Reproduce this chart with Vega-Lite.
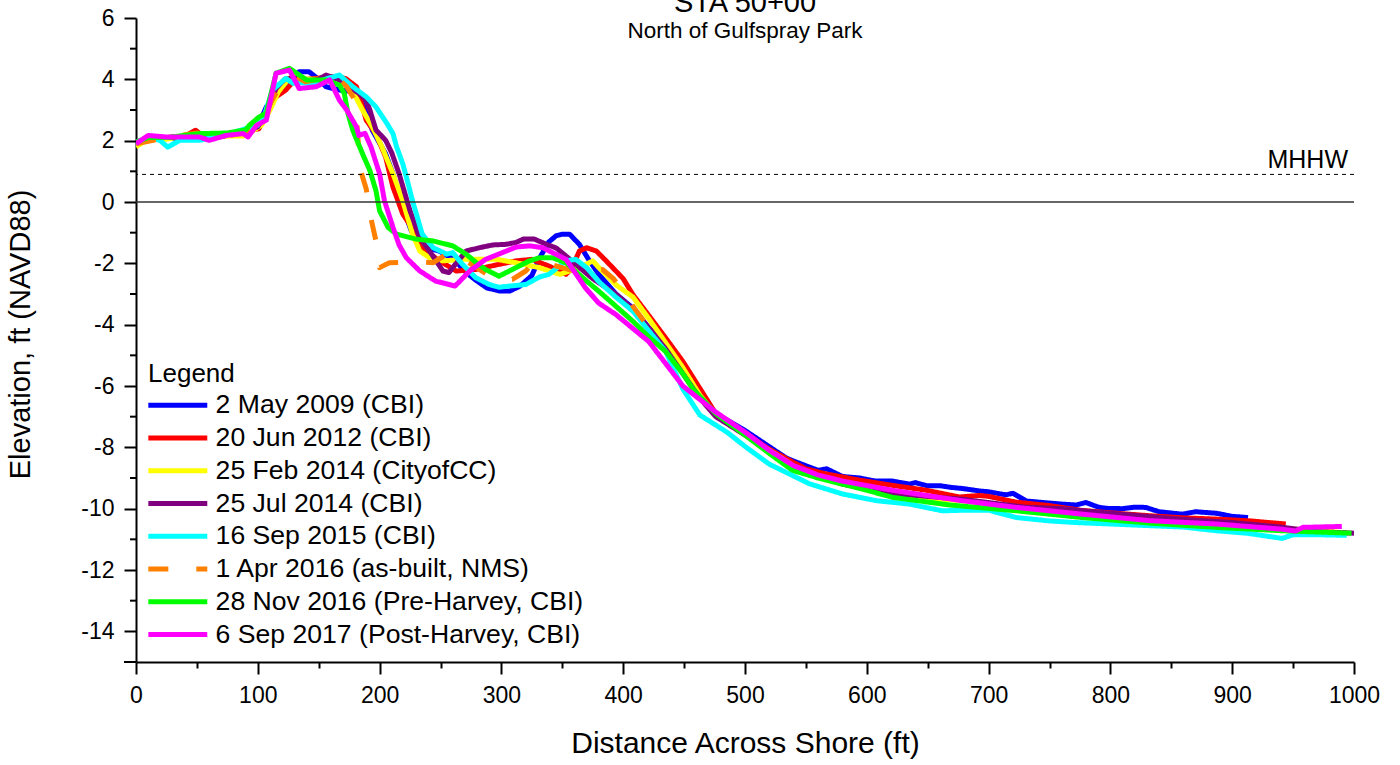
{
  "$schema": "https://vega.github.io/schema/vega-lite/v6.json",
  "autosize": {"type": "none"},
  "padding": {"left": 136, "top": 18, "right": 46, "bottom": 103},
  "width": 1218,
  "height": 644,
  "background": "white",
  "title": {
    "text": "STA 50+00",
    "subtitle": "North of Gulfspray Park",
    "fontSize": 29,
    "fontWeight": "normal",
    "subtitleFontSize": 22.5,
    "subtitlePadding": 2,
    "color": "black",
    "subtitleColor": "black",
    "anchor": "middle",
    "offset": -35
  },
  "config": {
    "font": "Liberation Sans",
    "locale": {"number": {"decimal": ".", "thousands": ",", "grouping": [3], "currency": ["$", ""], "minus": "-"}},
    "view": {"stroke": null},
    "axis": {
      "domainColor": "black",
      "domainWidth": 2,
      "tickColor": "black",
      "tickWidth": 2,
      "labelColor": "black",
      "titleColor": "black",
      "grid": false,
      "labelFontSize": 23,
      "titleFontWeight": "normal",
      "labelOverlap": false
    }
  },
  "datasets": {
    "minor": [{"x": 0, "y": -13}, {"x": 0, "y": -11}, {"x": 0, "y": -9}, {"x": 0, "y": -7}, {"x": 0, "y": -5}, {"x": 0, "y": -3}, {"x": 0, "y": -1}, {"x": 0, "y": 1}, {"x": 0, "y": 3}, {"x": 0, "y": 5}],
    "bottom": [{"x": 0, "y": -15}]
  },
  "data": {
    "values": [
      {"s": "2 May 2009 (CBI)", "x": 0, "y": 1.9},
      {"s": "2 May 2009 (CBI)", "x": 10, "y": 2.1},
      {"s": "2 May 2009 (CBI)", "x": 25, "y": 2.1},
      {"s": "2 May 2009 (CBI)", "x": 36, "y": 2.05},
      {"s": "2 May 2009 (CBI)", "x": 50, "y": 2.2},
      {"s": "2 May 2009 (CBI)", "x": 60, "y": 2.15},
      {"s": "2 May 2009 (CBI)", "x": 75, "y": 2.2},
      {"s": "2 May 2009 (CBI)", "x": 90, "y": 2.3},
      {"s": "2 May 2009 (CBI)", "x": 100, "y": 2.45},
      {"s": "2 May 2009 (CBI)", "x": 107, "y": 3.1},
      {"s": "2 May 2009 (CBI)", "x": 118, "y": 3.65},
      {"s": "2 May 2009 (CBI)", "x": 126, "y": 3.95},
      {"s": "2 May 2009 (CBI)", "x": 134, "y": 4.25},
      {"s": "2 May 2009 (CBI)", "x": 142, "y": 4.25},
      {"s": "2 May 2009 (CBI)", "x": 150, "y": 4.0},
      {"s": "2 May 2009 (CBI)", "x": 156, "y": 3.76},
      {"s": "2 May 2009 (CBI)", "x": 167, "y": 3.65},
      {"s": "2 May 2009 (CBI)", "x": 178, "y": 3.6},
      {"s": "2 May 2009 (CBI)", "x": 186, "y": 3.21},
      {"s": "2 May 2009 (CBI)", "x": 194, "y": 2.34},
      {"s": "2 May 2009 (CBI)", "x": 205, "y": 1.57},
      {"s": "2 May 2009 (CBI)", "x": 211, "y": 0.92},
      {"s": "2 May 2009 (CBI)", "x": 218, "y": -0.07},
      {"s": "2 May 2009 (CBI)", "x": 226, "y": -0.94},
      {"s": "2 May 2009 (CBI)", "x": 233, "y": -1.45},
      {"s": "2 May 2009 (CBI)", "x": 249, "y": -1.6},
      {"s": "2 May 2009 (CBI)", "x": 262, "y": -1.9},
      {"s": "2 May 2009 (CBI)", "x": 271, "y": -2.3},
      {"s": "2 May 2009 (CBI)", "x": 279, "y": -2.55},
      {"s": "2 May 2009 (CBI)", "x": 288, "y": -2.8},
      {"s": "2 May 2009 (CBI)", "x": 298, "y": -2.9},
      {"s": "2 May 2009 (CBI)", "x": 307, "y": -2.9},
      {"s": "2 May 2009 (CBI)", "x": 315, "y": -2.75},
      {"s": "2 May 2009 (CBI)", "x": 325, "y": -2.4},
      {"s": "2 May 2009 (CBI)", "x": 331, "y": -1.85},
      {"s": "2 May 2009 (CBI)", "x": 339, "y": -1.3},
      {"s": "2 May 2009 (CBI)", "x": 345, "y": -1.1},
      {"s": "2 May 2009 (CBI)", "x": 350, "y": -1.05},
      {"s": "2 May 2009 (CBI)", "x": 356, "y": -1.05},
      {"s": "2 May 2009 (CBI)", "x": 364, "y": -1.38},
      {"s": "2 May 2009 (CBI)", "x": 372, "y": -1.9},
      {"s": "2 May 2009 (CBI)", "x": 380, "y": -2.36},
      {"s": "2 May 2009 (CBI)", "x": 394, "y": -3.0},
      {"s": "2 May 2009 (CBI)", "x": 408, "y": -3.46},
      {"s": "2 May 2009 (CBI)", "x": 421, "y": -4.1},
      {"s": "2 May 2009 (CBI)", "x": 435, "y": -4.66},
      {"s": "2 May 2009 (CBI)", "x": 449, "y": -5.4},
      {"s": "2 May 2009 (CBI)", "x": 457, "y": -6.0},
      {"s": "2 May 2009 (CBI)", "x": 476, "y": -6.9},
      {"s": "2 May 2009 (CBI)", "x": 500, "y": -7.45},
      {"s": "2 May 2009 (CBI)", "x": 517, "y": -7.9},
      {"s": "2 May 2009 (CBI)", "x": 534, "y": -8.35},
      {"s": "2 May 2009 (CBI)", "x": 540, "y": -8.45},
      {"s": "2 May 2009 (CBI)", "x": 550, "y": -8.6},
      {"s": "2 May 2009 (CBI)", "x": 560, "y": -8.75},
      {"s": "2 May 2009 (CBI)", "x": 567, "y": -8.7},
      {"s": "2 May 2009 (CBI)", "x": 580, "y": -8.95},
      {"s": "2 May 2009 (CBI)", "x": 594, "y": -9.0},
      {"s": "2 May 2009 (CBI)", "x": 607, "y": -9.1},
      {"s": "2 May 2009 (CBI)", "x": 621, "y": -9.1},
      {"s": "2 May 2009 (CBI)", "x": 635, "y": -9.2},
      {"s": "2 May 2009 (CBI)", "x": 640, "y": -9.15},
      {"s": "2 May 2009 (CBI)", "x": 649, "y": -9.25},
      {"s": "2 May 2009 (CBI)", "x": 660, "y": -9.25},
      {"s": "2 May 2009 (CBI)", "x": 668, "y": -9.3},
      {"s": "2 May 2009 (CBI)", "x": 680, "y": -9.35},
      {"s": "2 May 2009 (CBI)", "x": 692, "y": -9.42},
      {"s": "2 May 2009 (CBI)", "x": 700, "y": -9.45},
      {"s": "2 May 2009 (CBI)", "x": 714, "y": -9.55},
      {"s": "2 May 2009 (CBI)", "x": 720, "y": -9.5},
      {"s": "2 May 2009 (CBI)", "x": 731, "y": -9.75},
      {"s": "2 May 2009 (CBI)", "x": 745, "y": -9.8},
      {"s": "2 May 2009 (CBI)", "x": 760, "y": -9.85},
      {"s": "2 May 2009 (CBI)", "x": 772, "y": -9.88},
      {"s": "2 May 2009 (CBI)", "x": 780, "y": -9.8},
      {"s": "2 May 2009 (CBI)", "x": 790, "y": -9.95},
      {"s": "2 May 2009 (CBI)", "x": 797, "y": -9.99},
      {"s": "2 May 2009 (CBI)", "x": 810, "y": -10.0},
      {"s": "2 May 2009 (CBI)", "x": 820, "y": -9.95},
      {"s": "2 May 2009 (CBI)", "x": 829, "y": -9.96},
      {"s": "2 May 2009 (CBI)", "x": 840, "y": -10.1},
      {"s": "2 May 2009 (CBI)", "x": 859, "y": -10.18},
      {"s": "2 May 2009 (CBI)", "x": 870, "y": -10.1},
      {"s": "2 May 2009 (CBI)", "x": 887, "y": -10.15},
      {"s": "2 May 2009 (CBI)", "x": 900, "y": -10.25},
      {"s": "2 May 2009 (CBI)", "x": 913, "y": -10.29},

      {"s": "20 Jun 2012 (CBI)", "x": 0, "y": 1.85},
      {"s": "20 Jun 2012 (CBI)", "x": 10, "y": 2.05},
      {"s": "20 Jun 2012 (CBI)", "x": 25, "y": 2.1},
      {"s": "20 Jun 2012 (CBI)", "x": 40, "y": 2.15},
      {"s": "20 Jun 2012 (CBI)", "x": 49, "y": 2.34},
      {"s": "20 Jun 2012 (CBI)", "x": 55, "y": 2.15},
      {"s": "20 Jun 2012 (CBI)", "x": 65, "y": 2.1},
      {"s": "20 Jun 2012 (CBI)", "x": 80, "y": 2.2},
      {"s": "20 Jun 2012 (CBI)", "x": 90, "y": 2.3},
      {"s": "20 Jun 2012 (CBI)", "x": 101, "y": 2.39},
      {"s": "20 Jun 2012 (CBI)", "x": 107, "y": 3.0},
      {"s": "20 Jun 2012 (CBI)", "x": 115, "y": 3.43},
      {"s": "20 Jun 2012 (CBI)", "x": 123, "y": 3.65},
      {"s": "20 Jun 2012 (CBI)", "x": 129, "y": 3.92},
      {"s": "20 Jun 2012 (CBI)", "x": 134, "y": 3.98},
      {"s": "20 Jun 2012 (CBI)", "x": 148, "y": 4.03},
      {"s": "20 Jun 2012 (CBI)", "x": 161, "y": 4.09},
      {"s": "20 Jun 2012 (CBI)", "x": 172, "y": 4.03},
      {"s": "20 Jun 2012 (CBI)", "x": 181, "y": 3.76},
      {"s": "20 Jun 2012 (CBI)", "x": 186, "y": 3.1},
      {"s": "20 Jun 2012 (CBI)", "x": 189, "y": 2.67},
      {"s": "20 Jun 2012 (CBI)", "x": 197, "y": 2.23},
      {"s": "20 Jun 2012 (CBI)", "x": 205, "y": 1.46},
      {"s": "20 Jun 2012 (CBI)", "x": 211, "y": 0.48},
      {"s": "20 Jun 2012 (CBI)", "x": 219, "y": -0.39},
      {"s": "20 Jun 2012 (CBI)", "x": 225, "y": -0.75},
      {"s": "20 Jun 2012 (CBI)", "x": 230, "y": -1.1},
      {"s": "20 Jun 2012 (CBI)", "x": 235, "y": -1.49},
      {"s": "20 Jun 2012 (CBI)", "x": 249, "y": -1.92},
      {"s": "20 Jun 2012 (CBI)", "x": 263, "y": -2.25},
      {"s": "20 Jun 2012 (CBI)", "x": 279, "y": -2.2},
      {"s": "20 Jun 2012 (CBI)", "x": 296, "y": -2.05},
      {"s": "20 Jun 2012 (CBI)", "x": 312, "y": -1.92},
      {"s": "20 Jun 2012 (CBI)", "x": 325, "y": -1.87},
      {"s": "20 Jun 2012 (CBI)", "x": 339, "y": -2.09},
      {"s": "20 Jun 2012 (CBI)", "x": 353, "y": -2.36},
      {"s": "20 Jun 2012 (CBI)", "x": 358, "y": -2.14},
      {"s": "20 Jun 2012 (CBI)", "x": 364, "y": -1.6},
      {"s": "20 Jun 2012 (CBI)", "x": 370, "y": -1.49},
      {"s": "20 Jun 2012 (CBI)", "x": 378, "y": -1.6},
      {"s": "20 Jun 2012 (CBI)", "x": 386, "y": -1.92},
      {"s": "20 Jun 2012 (CBI)", "x": 400, "y": -2.5},
      {"s": "20 Jun 2012 (CBI)", "x": 408, "y": -3.02},
      {"s": "20 Jun 2012 (CBI)", "x": 421, "y": -3.7},
      {"s": "20 Jun 2012 (CBI)", "x": 435, "y": -4.44},
      {"s": "20 Jun 2012 (CBI)", "x": 449, "y": -5.2},
      {"s": "20 Jun 2012 (CBI)", "x": 463, "y": -6.08},
      {"s": "20 Jun 2012 (CBI)", "x": 476, "y": -6.9},
      {"s": "20 Jun 2012 (CBI)", "x": 501, "y": -7.55},
      {"s": "20 Jun 2012 (CBI)", "x": 517, "y": -7.99},
      {"s": "20 Jun 2012 (CBI)", "x": 534, "y": -8.37},
      {"s": "20 Jun 2012 (CBI)", "x": 550, "y": -8.7},
      {"s": "20 Jun 2012 (CBI)", "x": 567, "y": -8.87},
      {"s": "20 Jun 2012 (CBI)", "x": 594, "y": -9.07},
      {"s": "20 Jun 2012 (CBI)", "x": 621, "y": -9.24},
      {"s": "20 Jun 2012 (CBI)", "x": 649, "y": -9.4},
      {"s": "20 Jun 2012 (CBI)", "x": 676, "y": -9.62},
      {"s": "20 Jun 2012 (CBI)", "x": 692, "y": -9.57},
      {"s": "20 Jun 2012 (CBI)", "x": 700, "y": -9.6},
      {"s": "20 Jun 2012 (CBI)", "x": 723, "y": -9.79},
      {"s": "20 Jun 2012 (CBI)", "x": 750, "y": -9.9},
      {"s": "20 Jun 2012 (CBI)", "x": 777, "y": -10.06},
      {"s": "20 Jun 2012 (CBI)", "x": 805, "y": -10.15},
      {"s": "20 Jun 2012 (CBI)", "x": 832, "y": -10.23},
      {"s": "20 Jun 2012 (CBI)", "x": 860, "y": -10.3},
      {"s": "20 Jun 2012 (CBI)", "x": 887, "y": -10.34},
      {"s": "20 Jun 2012 (CBI)", "x": 915, "y": -10.4},
      {"s": "20 Jun 2012 (CBI)", "x": 944, "y": -10.5},

      {"s": "25 Feb 2014 (CityofCC)", "x": 0, "y": 1.8},
      {"s": "25 Feb 2014 (CityofCC)", "x": 10, "y": 2.05},
      {"s": "25 Feb 2014 (CityofCC)", "x": 25, "y": 2.05},
      {"s": "25 Feb 2014 (CityofCC)", "x": 50, "y": 2.2},
      {"s": "25 Feb 2014 (CityofCC)", "x": 75, "y": 2.15},
      {"s": "25 Feb 2014 (CityofCC)", "x": 88, "y": 2.15},
      {"s": "25 Feb 2014 (CityofCC)", "x": 95, "y": 2.3},
      {"s": "25 Feb 2014 (CityofCC)", "x": 103, "y": 2.5},
      {"s": "25 Feb 2014 (CityofCC)", "x": 110, "y": 3.0},
      {"s": "25 Feb 2014 (CityofCC)", "x": 117, "y": 3.6},
      {"s": "25 Feb 2014 (CityofCC)", "x": 125, "y": 4.0},
      {"s": "25 Feb 2014 (CityofCC)", "x": 130, "y": 4.15},
      {"s": "25 Feb 2014 (CityofCC)", "x": 140, "y": 4.0},
      {"s": "25 Feb 2014 (CityofCC)", "x": 150, "y": 4.0},
      {"s": "25 Feb 2014 (CityofCC)", "x": 160, "y": 4.05},
      {"s": "25 Feb 2014 (CityofCC)", "x": 170, "y": 4.0},
      {"s": "25 Feb 2014 (CityofCC)", "x": 178, "y": 3.6},
      {"s": "25 Feb 2014 (CityofCC)", "x": 186, "y": 3.0},
      {"s": "25 Feb 2014 (CityofCC)", "x": 194, "y": 2.45},
      {"s": "25 Feb 2014 (CityofCC)", "x": 202, "y": 1.79},
      {"s": "25 Feb 2014 (CityofCC)", "x": 211, "y": 0.92},
      {"s": "25 Feb 2014 (CityofCC)", "x": 219, "y": 0.04},
      {"s": "25 Feb 2014 (CityofCC)", "x": 227, "y": -1.05},
      {"s": "25 Feb 2014 (CityofCC)", "x": 233, "y": -1.6},
      {"s": "25 Feb 2014 (CityofCC)", "x": 241, "y": -1.82},
      {"s": "25 Feb 2014 (CityofCC)", "x": 252, "y": -1.92},
      {"s": "25 Feb 2014 (CityofCC)", "x": 268, "y": -1.87},
      {"s": "25 Feb 2014 (CityofCC)", "x": 285, "y": -1.87},
      {"s": "25 Feb 2014 (CityofCC)", "x": 296, "y": -1.87},
      {"s": "25 Feb 2014 (CityofCC)", "x": 312, "y": -1.98},
      {"s": "25 Feb 2014 (CityofCC)", "x": 331, "y": -2.14},
      {"s": "25 Feb 2014 (CityofCC)", "x": 348, "y": -2.36},
      {"s": "25 Feb 2014 (CityofCC)", "x": 364, "y": -2.14},
      {"s": "25 Feb 2014 (CityofCC)", "x": 375, "y": -1.92},
      {"s": "25 Feb 2014 (CityofCC)", "x": 380, "y": -2.14},
      {"s": "25 Feb 2014 (CityofCC)", "x": 394, "y": -2.7},
      {"s": "25 Feb 2014 (CityofCC)", "x": 408, "y": -3.1},
      {"s": "25 Feb 2014 (CityofCC)", "x": 421, "y": -3.8},
      {"s": "25 Feb 2014 (CityofCC)", "x": 435, "y": -4.6},
      {"s": "25 Feb 2014 (CityofCC)", "x": 449, "y": -5.4},
      {"s": "25 Feb 2014 (CityofCC)", "x": 463, "y": -6.3},
      {"s": "25 Feb 2014 (CityofCC)", "x": 476, "y": -6.95},
      {"s": "25 Feb 2014 (CityofCC)", "x": 500, "y": -7.6},
      {"s": "25 Feb 2014 (CityofCC)", "x": 520, "y": -8.1},
      {"s": "25 Feb 2014 (CityofCC)", "x": 540, "y": -8.6},
      {"s": "25 Feb 2014 (CityofCC)", "x": 560, "y": -8.95},
      {"s": "25 Feb 2014 (CityofCC)", "x": 580, "y": -9.2},
      {"s": "25 Feb 2014 (CityofCC)", "x": 600, "y": -9.35},
      {"s": "25 Feb 2014 (CityofCC)", "x": 620, "y": -9.5},
      {"s": "25 Feb 2014 (CityofCC)", "x": 650, "y": -9.65},
      {"s": "25 Feb 2014 (CityofCC)", "x": 680, "y": -9.75},
      {"s": "25 Feb 2014 (CityofCC)", "x": 700, "y": -9.85},
      {"s": "25 Feb 2014 (CityofCC)", "x": 730, "y": -10.0},
      {"s": "25 Feb 2014 (CityofCC)", "x": 760, "y": -10.05},
      {"s": "25 Feb 2014 (CityofCC)", "x": 800, "y": -10.2},
      {"s": "25 Feb 2014 (CityofCC)", "x": 830, "y": -10.3},
      {"s": "25 Feb 2014 (CityofCC)", "x": 860, "y": -10.4},
      {"s": "25 Feb 2014 (CityofCC)", "x": 900, "y": -10.5},
      {"s": "25 Feb 2014 (CityofCC)", "x": 940, "y": -10.65},
      {"s": "25 Feb 2014 (CityofCC)", "x": 970, "y": -10.7},
      {"s": "25 Feb 2014 (CityofCC)", "x": 994, "y": -10.8},

      {"s": "25 Jul 2014 (CBI)", "x": 0, "y": 1.9},
      {"s": "25 Jul 2014 (CBI)", "x": 10, "y": 2.1},
      {"s": "25 Jul 2014 (CBI)", "x": 25, "y": 2.1},
      {"s": "25 Jul 2014 (CBI)", "x": 50, "y": 2.15},
      {"s": "25 Jul 2014 (CBI)", "x": 75, "y": 2.2},
      {"s": "25 Jul 2014 (CBI)", "x": 90, "y": 2.3},
      {"s": "25 Jul 2014 (CBI)", "x": 100, "y": 2.45},
      {"s": "25 Jul 2014 (CBI)", "x": 108, "y": 3.0},
      {"s": "25 Jul 2014 (CBI)", "x": 115, "y": 3.7},
      {"s": "25 Jul 2014 (CBI)", "x": 122, "y": 4.0},
      {"s": "25 Jul 2014 (CBI)", "x": 130, "y": 4.05},
      {"s": "25 Jul 2014 (CBI)", "x": 140, "y": 3.95},
      {"s": "25 Jul 2014 (CBI)", "x": 150, "y": 4.0},
      {"s": "25 Jul 2014 (CBI)", "x": 156, "y": 4.14},
      {"s": "25 Jul 2014 (CBI)", "x": 167, "y": 3.98},
      {"s": "25 Jul 2014 (CBI)", "x": 183, "y": 3.54},
      {"s": "25 Jul 2014 (CBI)", "x": 189, "y": 3.32},
      {"s": "25 Jul 2014 (CBI)", "x": 192, "y": 3.0},
      {"s": "25 Jul 2014 (CBI)", "x": 197, "y": 2.35},
      {"s": "25 Jul 2014 (CBI)", "x": 205, "y": 2.01},
      {"s": "25 Jul 2014 (CBI)", "x": 210, "y": 1.6},
      {"s": "25 Jul 2014 (CBI)", "x": 216, "y": 0.92},
      {"s": "25 Jul 2014 (CBI)", "x": 225, "y": -0.29},
      {"s": "25 Jul 2014 (CBI)", "x": 233, "y": -1.16},
      {"s": "25 Jul 2014 (CBI)", "x": 241, "y": -1.6},
      {"s": "25 Jul 2014 (CBI)", "x": 252, "y": -2.25},
      {"s": "25 Jul 2014 (CBI)", "x": 257, "y": -2.3},
      {"s": "25 Jul 2014 (CBI)", "x": 260, "y": -2.14},
      {"s": "25 Jul 2014 (CBI)", "x": 265, "y": -1.9},
      {"s": "25 Jul 2014 (CBI)", "x": 271, "y": -1.6},
      {"s": "25 Jul 2014 (CBI)", "x": 282, "y": -1.49},
      {"s": "25 Jul 2014 (CBI)", "x": 293, "y": -1.4},
      {"s": "25 Jul 2014 (CBI)", "x": 304, "y": -1.38},
      {"s": "25 Jul 2014 (CBI)", "x": 312, "y": -1.32},
      {"s": "25 Jul 2014 (CBI)", "x": 318, "y": -1.21},
      {"s": "25 Jul 2014 (CBI)", "x": 327, "y": -1.21},
      {"s": "25 Jul 2014 (CBI)", "x": 337, "y": -1.38},
      {"s": "25 Jul 2014 (CBI)", "x": 345, "y": -1.5},
      {"s": "25 Jul 2014 (CBI)", "x": 353, "y": -1.76},
      {"s": "25 Jul 2014 (CBI)", "x": 361, "y": -2.03},
      {"s": "25 Jul 2014 (CBI)", "x": 375, "y": -2.5},
      {"s": "25 Jul 2014 (CBI)", "x": 394, "y": -3.0},
      {"s": "25 Jul 2014 (CBI)", "x": 408, "y": -3.5},
      {"s": "25 Jul 2014 (CBI)", "x": 421, "y": -4.1},
      {"s": "25 Jul 2014 (CBI)", "x": 435, "y": -4.8},
      {"s": "25 Jul 2014 (CBI)", "x": 449, "y": -5.6},
      {"s": "25 Jul 2014 (CBI)", "x": 463, "y": -6.4},
      {"s": "25 Jul 2014 (CBI)", "x": 476, "y": -7.0},
      {"s": "25 Jul 2014 (CBI)", "x": 500, "y": -7.6},
      {"s": "25 Jul 2014 (CBI)", "x": 520, "y": -8.15},
      {"s": "25 Jul 2014 (CBI)", "x": 540, "y": -8.6},
      {"s": "25 Jul 2014 (CBI)", "x": 560, "y": -8.95},
      {"s": "25 Jul 2014 (CBI)", "x": 580, "y": -9.2},
      {"s": "25 Jul 2014 (CBI)", "x": 600, "y": -9.35},
      {"s": "25 Jul 2014 (CBI)", "x": 620, "y": -9.5},
      {"s": "25 Jul 2014 (CBI)", "x": 650, "y": -9.6},
      {"s": "25 Jul 2014 (CBI)", "x": 680, "y": -9.7},
      {"s": "25 Jul 2014 (CBI)", "x": 700, "y": -9.8},
      {"s": "25 Jul 2014 (CBI)", "x": 730, "y": -9.95},
      {"s": "25 Jul 2014 (CBI)", "x": 760, "y": -10.0},
      {"s": "25 Jul 2014 (CBI)", "x": 800, "y": -10.15},
      {"s": "25 Jul 2014 (CBI)", "x": 830, "y": -10.25},
      {"s": "25 Jul 2014 (CBI)", "x": 860, "y": -10.35},
      {"s": "25 Jul 2014 (CBI)", "x": 900, "y": -10.45},
      {"s": "25 Jul 2014 (CBI)", "x": 940, "y": -10.6},
      {"s": "25 Jul 2014 (CBI)", "x": 970, "y": -10.75},
      {"s": "25 Jul 2014 (CBI)", "x": 1000, "y": -10.8},

      {"s": "16 Sep 2015 (CBI)", "x": 0, "y": 1.95},
      {"s": "16 Sep 2015 (CBI)", "x": 11, "y": 2.12},
      {"s": "16 Sep 2015 (CBI)", "x": 20, "y": 2.0},
      {"s": "16 Sep 2015 (CBI)", "x": 26, "y": 1.79},
      {"s": "16 Sep 2015 (CBI)", "x": 36, "y": 2.01},
      {"s": "16 Sep 2015 (CBI)", "x": 52, "y": 2.01},
      {"s": "16 Sep 2015 (CBI)", "x": 74, "y": 2.2},
      {"s": "16 Sep 2015 (CBI)", "x": 90, "y": 2.39},
      {"s": "16 Sep 2015 (CBI)", "x": 100, "y": 2.5},
      {"s": "16 Sep 2015 (CBI)", "x": 106, "y": 2.9},
      {"s": "16 Sep 2015 (CBI)", "x": 112, "y": 3.65},
      {"s": "16 Sep 2015 (CBI)", "x": 123, "y": 4.03},
      {"s": "16 Sep 2015 (CBI)", "x": 129, "y": 3.87},
      {"s": "16 Sep 2015 (CBI)", "x": 135, "y": 3.9},
      {"s": "16 Sep 2015 (CBI)", "x": 145, "y": 3.85},
      {"s": "16 Sep 2015 (CBI)", "x": 155, "y": 4.0},
      {"s": "16 Sep 2015 (CBI)", "x": 167, "y": 4.14},
      {"s": "16 Sep 2015 (CBI)", "x": 178, "y": 3.76},
      {"s": "16 Sep 2015 (CBI)", "x": 189, "y": 3.43},
      {"s": "16 Sep 2015 (CBI)", "x": 197, "y": 3.1},
      {"s": "16 Sep 2015 (CBI)", "x": 206, "y": 2.56},
      {"s": "16 Sep 2015 (CBI)", "x": 211, "y": 2.23},
      {"s": "16 Sep 2015 (CBI)", "x": 214, "y": 1.79},
      {"s": "16 Sep 2015 (CBI)", "x": 219, "y": 1.25},
      {"s": "16 Sep 2015 (CBI)", "x": 222, "y": 0.81},
      {"s": "16 Sep 2015 (CBI)", "x": 227, "y": 0.04},
      {"s": "16 Sep 2015 (CBI)", "x": 235, "y": -1.05},
      {"s": "16 Sep 2015 (CBI)", "x": 244, "y": -1.49},
      {"s": "16 Sep 2015 (CBI)", "x": 255, "y": -1.7},
      {"s": "16 Sep 2015 (CBI)", "x": 260, "y": -1.65},
      {"s": "16 Sep 2015 (CBI)", "x": 268, "y": -2.03},
      {"s": "16 Sep 2015 (CBI)", "x": 279, "y": -2.47},
      {"s": "16 Sep 2015 (CBI)", "x": 290, "y": -2.69},
      {"s": "16 Sep 2015 (CBI)", "x": 298, "y": -2.78},
      {"s": "16 Sep 2015 (CBI)", "x": 307, "y": -2.74},
      {"s": "16 Sep 2015 (CBI)", "x": 320, "y": -2.69},
      {"s": "16 Sep 2015 (CBI)", "x": 331, "y": -2.45},
      {"s": "16 Sep 2015 (CBI)", "x": 339, "y": -2.36},
      {"s": "16 Sep 2015 (CBI)", "x": 353, "y": -1.92},
      {"s": "16 Sep 2015 (CBI)", "x": 361, "y": -1.87},
      {"s": "16 Sep 2015 (CBI)", "x": 370, "y": -2.14},
      {"s": "16 Sep 2015 (CBI)", "x": 380, "y": -2.6},
      {"s": "16 Sep 2015 (CBI)", "x": 394, "y": -3.1},
      {"s": "16 Sep 2015 (CBI)", "x": 408, "y": -3.56},
      {"s": "16 Sep 2015 (CBI)", "x": 421, "y": -4.2},
      {"s": "16 Sep 2015 (CBI)", "x": 435, "y": -4.88},
      {"s": "16 Sep 2015 (CBI)", "x": 449, "y": -6.1},
      {"s": "16 Sep 2015 (CBI)", "x": 463, "y": -6.95},
      {"s": "16 Sep 2015 (CBI)", "x": 485, "y": -7.5},
      {"s": "16 Sep 2015 (CBI)", "x": 501, "y": -8.0},
      {"s": "16 Sep 2015 (CBI)", "x": 520, "y": -8.55},
      {"s": "16 Sep 2015 (CBI)", "x": 553, "y": -9.19},
      {"s": "16 Sep 2015 (CBI)", "x": 580, "y": -9.52},
      {"s": "16 Sep 2015 (CBI)", "x": 608, "y": -9.74},
      {"s": "16 Sep 2015 (CBI)", "x": 635, "y": -9.85},
      {"s": "16 Sep 2015 (CBI)", "x": 662, "y": -10.07},
      {"s": "16 Sep 2015 (CBI)", "x": 680, "y": -10.05},
      {"s": "16 Sep 2015 (CBI)", "x": 700, "y": -10.05},
      {"s": "16 Sep 2015 (CBI)", "x": 723, "y": -10.29},
      {"s": "16 Sep 2015 (CBI)", "x": 750, "y": -10.4},
      {"s": "16 Sep 2015 (CBI)", "x": 770, "y": -10.45},
      {"s": "16 Sep 2015 (CBI)", "x": 800, "y": -10.5},
      {"s": "16 Sep 2015 (CBI)", "x": 830, "y": -10.55},
      {"s": "16 Sep 2015 (CBI)", "x": 860, "y": -10.6},
      {"s": "16 Sep 2015 (CBI)", "x": 887, "y": -10.72},
      {"s": "16 Sep 2015 (CBI)", "x": 912, "y": -10.8},
      {"s": "16 Sep 2015 (CBI)", "x": 941, "y": -10.97},
      {"s": "16 Sep 2015 (CBI)", "x": 950, "y": -10.85},
      {"s": "16 Sep 2015 (CBI)", "x": 970, "y": -10.85},
      {"s": "16 Sep 2015 (CBI)", "x": 994, "y": -10.87},

      {"s": "1 Apr 2016 (as-built, NMS)", "x": 0, "y": 1.9},
      {"s": "1 Apr 2016 (as-built, NMS)", "x": 25, "y": 2.1},
      {"s": "1 Apr 2016 (as-built, NMS)", "x": 50, "y": 2.25},
      {"s": "1 Apr 2016 (as-built, NMS)", "x": 75, "y": 2.15},
      {"s": "1 Apr 2016 (as-built, NMS)", "x": 90, "y": 2.3},
      {"s": "1 Apr 2016 (as-built, NMS)", "x": 100, "y": 2.4},
      {"s": "1 Apr 2016 (as-built, NMS)", "x": 110, "y": 3.2},
      {"s": "1 Apr 2016 (as-built, NMS)", "x": 120, "y": 3.9},
      {"s": "1 Apr 2016 (as-built, NMS)", "x": 131, "y": 4.09},
      {"s": "1 Apr 2016 (as-built, NMS)", "x": 139, "y": 3.92},
      {"s": "1 Apr 2016 (as-built, NMS)", "x": 150, "y": 4.0},
      {"s": "1 Apr 2016 (as-built, NMS)", "x": 165, "y": 4.05},
      {"s": "1 Apr 2016 (as-built, NMS)", "x": 173, "y": 3.76},
      {"s": "1 Apr 2016 (as-built, NMS)", "x": 180, "y": 3.3},
      {"s": "1 Apr 2016 (as-built, NMS)", "x": 184, "y": 1.08},
      {"s": "1 Apr 2016 (as-built, NMS)", "x": 189, "y": 0.43},
      {"s": "1 Apr 2016 (as-built, NMS)", "x": 193, "y": -0.55},
      {"s": "1 Apr 2016 (as-built, NMS)", "x": 197, "y": -1.27},
      {"s": "1 Apr 2016 (as-built, NMS)", "x": 200, "y": -2.14},
      {"s": "1 Apr 2016 (as-built, NMS)", "x": 208, "y": -1.98},
      {"s": "1 Apr 2016 (as-built, NMS)", "x": 230, "y": -1.95},
      {"s": "1 Apr 2016 (as-built, NMS)", "x": 244, "y": -1.98},
      {"s": "1 Apr 2016 (as-built, NMS)", "x": 257, "y": -1.65},
      {"s": "1 Apr 2016 (as-built, NMS)", "x": 271, "y": -1.92},
      {"s": "1 Apr 2016 (as-built, NMS)", "x": 290, "y": -2.4},
      {"s": "1 Apr 2016 (as-built, NMS)", "x": 296, "y": -2.52},
      {"s": "1 Apr 2016 (as-built, NMS)", "x": 309, "y": -2.52},
      {"s": "1 Apr 2016 (as-built, NMS)", "x": 320, "y": -2.25},
      {"s": "1 Apr 2016 (as-built, NMS)", "x": 326, "y": -2.0},
      {"s": "1 Apr 2016 (as-built, NMS)", "x": 337, "y": -2.0},
      {"s": "1 Apr 2016 (as-built, NMS)", "x": 355, "y": -2.2},
      {"s": "1 Apr 2016 (as-built, NMS)", "x": 367, "y": -2.3},
      {"s": "1 Apr 2016 (as-built, NMS)", "x": 383, "y": -2.2},
      {"s": "1 Apr 2016 (as-built, NMS)", "x": 392, "y": -2.5},
      {"s": "1 Apr 2016 (as-built, NMS)", "x": 401, "y": -2.96},
      {"s": "1 Apr 2016 (as-built, NMS)", "x": 409, "y": -3.46},
      {"s": "1 Apr 2016 (as-built, NMS)", "x": 425, "y": -4.3},

      {"s": "28 Nov 2016 (Pre-Harvey, CBI)", "x": 0, "y": 1.95},
      {"s": "28 Nov 2016 (Pre-Harvey, CBI)", "x": 10, "y": 2.1},
      {"s": "28 Nov 2016 (Pre-Harvey, CBI)", "x": 25, "y": 2.1},
      {"s": "28 Nov 2016 (Pre-Harvey, CBI)", "x": 52, "y": 2.23},
      {"s": "28 Nov 2016 (Pre-Harvey, CBI)", "x": 75, "y": 2.25},
      {"s": "28 Nov 2016 (Pre-Harvey, CBI)", "x": 90, "y": 2.35},
      {"s": "28 Nov 2016 (Pre-Harvey, CBI)", "x": 93, "y": 2.5},
      {"s": "28 Nov 2016 (Pre-Harvey, CBI)", "x": 101, "y": 2.77},
      {"s": "28 Nov 2016 (Pre-Harvey, CBI)", "x": 107, "y": 2.9},
      {"s": "28 Nov 2016 (Pre-Harvey, CBI)", "x": 115, "y": 4.2},
      {"s": "28 Nov 2016 (Pre-Harvey, CBI)", "x": 126, "y": 4.36},
      {"s": "28 Nov 2016 (Pre-Harvey, CBI)", "x": 140, "y": 3.98},
      {"s": "28 Nov 2016 (Pre-Harvey, CBI)", "x": 156, "y": 3.98},
      {"s": "28 Nov 2016 (Pre-Harvey, CBI)", "x": 167, "y": 3.81},
      {"s": "28 Nov 2016 (Pre-Harvey, CBI)", "x": 171, "y": 3.54},
      {"s": "28 Nov 2016 (Pre-Harvey, CBI)", "x": 174, "y": 2.89},
      {"s": "28 Nov 2016 (Pre-Harvey, CBI)", "x": 178, "y": 2.34},
      {"s": "28 Nov 2016 (Pre-Harvey, CBI)", "x": 186, "y": 1.57},
      {"s": "28 Nov 2016 (Pre-Harvey, CBI)", "x": 192, "y": 1.03},
      {"s": "28 Nov 2016 (Pre-Harvey, CBI)", "x": 197, "y": 0.37},
      {"s": "28 Nov 2016 (Pre-Harvey, CBI)", "x": 200, "y": -0.29},
      {"s": "28 Nov 2016 (Pre-Harvey, CBI)", "x": 207, "y": -0.83},
      {"s": "28 Nov 2016 (Pre-Harvey, CBI)", "x": 214, "y": -1.05},
      {"s": "28 Nov 2016 (Pre-Harvey, CBI)", "x": 230, "y": -1.21},
      {"s": "28 Nov 2016 (Pre-Harvey, CBI)", "x": 244, "y": -1.27},
      {"s": "28 Nov 2016 (Pre-Harvey, CBI)", "x": 260, "y": -1.43},
      {"s": "28 Nov 2016 (Pre-Harvey, CBI)", "x": 271, "y": -1.7},
      {"s": "28 Nov 2016 (Pre-Harvey, CBI)", "x": 280, "y": -2.0},
      {"s": "28 Nov 2016 (Pre-Harvey, CBI)", "x": 287, "y": -2.2},
      {"s": "28 Nov 2016 (Pre-Harvey, CBI)", "x": 298, "y": -2.42},
      {"s": "28 Nov 2016 (Pre-Harvey, CBI)", "x": 312, "y": -2.14},
      {"s": "28 Nov 2016 (Pre-Harvey, CBI)", "x": 323, "y": -1.92},
      {"s": "28 Nov 2016 (Pre-Harvey, CBI)", "x": 331, "y": -1.82},
      {"s": "28 Nov 2016 (Pre-Harvey, CBI)", "x": 342, "y": -1.82},
      {"s": "28 Nov 2016 (Pre-Harvey, CBI)", "x": 353, "y": -1.98},
      {"s": "28 Nov 2016 (Pre-Harvey, CBI)", "x": 370, "y": -2.58},
      {"s": "28 Nov 2016 (Pre-Harvey, CBI)", "x": 380, "y": -2.91},
      {"s": "28 Nov 2016 (Pre-Harvey, CBI)", "x": 394, "y": -3.4},
      {"s": "28 Nov 2016 (Pre-Harvey, CBI)", "x": 408, "y": -3.89},
      {"s": "28 Nov 2016 (Pre-Harvey, CBI)", "x": 421, "y": -4.4},
      {"s": "28 Nov 2016 (Pre-Harvey, CBI)", "x": 435, "y": -4.88},
      {"s": "28 Nov 2016 (Pre-Harvey, CBI)", "x": 449, "y": -5.6},
      {"s": "28 Nov 2016 (Pre-Harvey, CBI)", "x": 457, "y": -6.08},
      {"s": "28 Nov 2016 (Pre-Harvey, CBI)", "x": 476, "y": -6.9},
      {"s": "28 Nov 2016 (Pre-Harvey, CBI)", "x": 500, "y": -7.6},
      {"s": "28 Nov 2016 (Pre-Harvey, CBI)", "x": 520, "y": -8.2},
      {"s": "28 Nov 2016 (Pre-Harvey, CBI)", "x": 539, "y": -8.75},
      {"s": "28 Nov 2016 (Pre-Harvey, CBI)", "x": 560, "y": -9.0},
      {"s": "28 Nov 2016 (Pre-Harvey, CBI)", "x": 580, "y": -9.2},
      {"s": "28 Nov 2016 (Pre-Harvey, CBI)", "x": 600, "y": -9.4},
      {"s": "28 Nov 2016 (Pre-Harvey, CBI)", "x": 621, "y": -9.63},
      {"s": "28 Nov 2016 (Pre-Harvey, CBI)", "x": 668, "y": -9.88},
      {"s": "28 Nov 2016 (Pre-Harvey, CBI)", "x": 723, "y": -10.07},
      {"s": "28 Nov 2016 (Pre-Harvey, CBI)", "x": 777, "y": -10.29},
      {"s": "28 Nov 2016 (Pre-Harvey, CBI)", "x": 832, "y": -10.47},
      {"s": "28 Nov 2016 (Pre-Harvey, CBI)", "x": 887, "y": -10.61},
      {"s": "28 Nov 2016 (Pre-Harvey, CBI)", "x": 941, "y": -10.72},
      {"s": "28 Nov 2016 (Pre-Harvey, CBI)", "x": 998, "y": -10.8},

      {"s": "6 Sep 2017 (Post-Harvey, CBI)", "x": 0, "y": 1.9},
      {"s": "6 Sep 2017 (Post-Harvey, CBI)", "x": 10, "y": 2.17},
      {"s": "6 Sep 2017 (Post-Harvey, CBI)", "x": 25, "y": 2.12},
      {"s": "6 Sep 2017 (Post-Harvey, CBI)", "x": 52, "y": 2.12},
      {"s": "6 Sep 2017 (Post-Harvey, CBI)", "x": 60, "y": 2.01},
      {"s": "6 Sep 2017 (Post-Harvey, CBI)", "x": 74, "y": 2.17},
      {"s": "6 Sep 2017 (Post-Harvey, CBI)", "x": 88, "y": 2.23},
      {"s": "6 Sep 2017 (Post-Harvey, CBI)", "x": 92, "y": 2.12},
      {"s": "6 Sep 2017 (Post-Harvey, CBI)", "x": 99, "y": 2.5},
      {"s": "6 Sep 2017 (Post-Harvey, CBI)", "x": 107, "y": 2.67},
      {"s": "6 Sep 2017 (Post-Harvey, CBI)", "x": 115, "y": 4.2},
      {"s": "6 Sep 2017 (Post-Harvey, CBI)", "x": 126, "y": 4.3},
      {"s": "6 Sep 2017 (Post-Harvey, CBI)", "x": 134, "y": 3.7},
      {"s": "6 Sep 2017 (Post-Harvey, CBI)", "x": 148, "y": 3.76},
      {"s": "6 Sep 2017 (Post-Harvey, CBI)", "x": 159, "y": 3.98},
      {"s": "6 Sep 2017 (Post-Harvey, CBI)", "x": 167, "y": 3.32},
      {"s": "6 Sep 2017 (Post-Harvey, CBI)", "x": 173, "y": 3.0},
      {"s": "6 Sep 2017 (Post-Harvey, CBI)", "x": 181, "y": 2.45},
      {"s": "6 Sep 2017 (Post-Harvey, CBI)", "x": 183, "y": 2.17},
      {"s": "6 Sep 2017 (Post-Harvey, CBI)", "x": 188, "y": 2.24},
      {"s": "6 Sep 2017 (Post-Harvey, CBI)", "x": 193, "y": 1.79},
      {"s": "6 Sep 2017 (Post-Harvey, CBI)", "x": 200, "y": 0.92},
      {"s": "6 Sep 2017 (Post-Harvey, CBI)", "x": 204, "y": 0.04},
      {"s": "6 Sep 2017 (Post-Harvey, CBI)", "x": 211, "y": -0.83},
      {"s": "6 Sep 2017 (Post-Harvey, CBI)", "x": 216, "y": -1.4},
      {"s": "6 Sep 2017 (Post-Harvey, CBI)", "x": 222, "y": -1.82},
      {"s": "6 Sep 2017 (Post-Harvey, CBI)", "x": 233, "y": -2.25},
      {"s": "6 Sep 2017 (Post-Harvey, CBI)", "x": 246, "y": -2.58},
      {"s": "6 Sep 2017 (Post-Harvey, CBI)", "x": 262, "y": -2.74},
      {"s": "6 Sep 2017 (Post-Harvey, CBI)", "x": 274, "y": -2.25},
      {"s": "6 Sep 2017 (Post-Harvey, CBI)", "x": 287, "y": -1.87},
      {"s": "6 Sep 2017 (Post-Harvey, CBI)", "x": 304, "y": -1.6},
      {"s": "6 Sep 2017 (Post-Harvey, CBI)", "x": 312, "y": -1.47},
      {"s": "6 Sep 2017 (Post-Harvey, CBI)", "x": 323, "y": -1.43},
      {"s": "6 Sep 2017 (Post-Harvey, CBI)", "x": 334, "y": -1.49},
      {"s": "6 Sep 2017 (Post-Harvey, CBI)", "x": 353, "y": -1.87},
      {"s": "6 Sep 2017 (Post-Harvey, CBI)", "x": 369, "y": -2.8},
      {"s": "6 Sep 2017 (Post-Harvey, CBI)", "x": 380, "y": -3.3},
      {"s": "6 Sep 2017 (Post-Harvey, CBI)", "x": 394, "y": -3.67},
      {"s": "6 Sep 2017 (Post-Harvey, CBI)", "x": 421, "y": -4.55},
      {"s": "6 Sep 2017 (Post-Harvey, CBI)", "x": 449, "y": -6.0},
      {"s": "6 Sep 2017 (Post-Harvey, CBI)", "x": 476, "y": -6.85},
      {"s": "6 Sep 2017 (Post-Harvey, CBI)", "x": 500, "y": -7.5},
      {"s": "6 Sep 2017 (Post-Harvey, CBI)", "x": 520, "y": -8.1},
      {"s": "6 Sep 2017 (Post-Harvey, CBI)", "x": 540, "y": -8.6},
      {"s": "6 Sep 2017 (Post-Harvey, CBI)", "x": 560, "y": -8.9},
      {"s": "6 Sep 2017 (Post-Harvey, CBI)", "x": 580, "y": -9.1},
      {"s": "6 Sep 2017 (Post-Harvey, CBI)", "x": 621, "y": -9.4},
      {"s": "6 Sep 2017 (Post-Harvey, CBI)", "x": 676, "y": -9.73},
      {"s": "6 Sep 2017 (Post-Harvey, CBI)", "x": 723, "y": -9.96},
      {"s": "6 Sep 2017 (Post-Harvey, CBI)", "x": 777, "y": -10.18},
      {"s": "6 Sep 2017 (Post-Harvey, CBI)", "x": 832, "y": -10.39},
      {"s": "6 Sep 2017 (Post-Harvey, CBI)", "x": 887, "y": -10.5},
      {"s": "6 Sep 2017 (Post-Harvey, CBI)", "x": 941, "y": -10.67},
      {"s": "6 Sep 2017 (Post-Harvey, CBI)", "x": 952, "y": -10.73},
      {"s": "6 Sep 2017 (Post-Harvey, CBI)", "x": 958, "y": -10.61},
      {"s": "6 Sep 2017 (Post-Harvey, CBI)", "x": 990, "y": -10.58}
    ]
  },
  "layer": [
    {
      "mark": {"type": "line", "strokeWidth": 5, "strokeJoin": "round", "clip": true},
      "encoding": {
        "x": {
          "field": "x",
          "type": "quantitative",
          "scale": {"domain": [0, 1000], "nice": false, "zero": false},
          "axis": {
            "title": "Distance Across Shore (ft)",
            "titleFontSize": 30,
            "values": [0, 50, 100, 150, 200, 250, 300, 350, 400, 450, 500, 550, 600, 650, 700, 750, 800, 850, 900, 950, 1000],
            "labelExpr": "datum.value % 100 === 0 ? '' + datum.value : ''",
            "tickSize": {"condition": {"test": "datum.value % 100 === 0", "value": 12}, "value": 6},
            "labelPadding": 10,
            "labelFlush": false,
            "labelOverlap": false,
            "titleY": 66
          }
        },
        "y": {
          "field": "y",
          "type": "quantitative",
          "scale": {"domain": [-15, 6], "nice": false, "zero": false},
          "axis": {
            "title": "Elevation, ft (NAVD88)",
            "titleFontSize": 29,
            "values": [-14, -12, -10, -8, -6, -4, -2, 0, 2, 4, 6],
            "format": "d",
            "tickSize": 12,
            "labelPadding": 10,
            "labelFlush": false,
            "labelOverlap": false,
            "titleX": -101,
            "titleY": 316
          }
        },
        "color": {
          "field": "s",
          "type": "nominal",
          "scale": {
            "domain": ["2 May 2009 (CBI)", "20 Jun 2012 (CBI)", "25 Feb 2014 (CityofCC)", "25 Jul 2014 (CBI)", "16 Sep 2015 (CBI)", "1 Apr 2016 (as-built, NMS)", "28 Nov 2016 (Pre-Harvey, CBI)", "6 Sep 2017 (Post-Harvey, CBI)"],
            "range": ["#0000FF", "#FF0000", "#FFFF00", "#800080", "#00FFFF", "#FF8000", "#00FF00", "#FF00FF"]
          },
          "legend": {
            "title": "Legend",
            "orient": "none",
            "legendX": 12,
            "legendY": 343,
            "padding": 0,
            "titleFontSize": 26,
            "titleFontWeight": "normal",
            "titleColor": "black",
            "titlePadding": 5,
            "labelFontSize": 26.6,
            "labelColor": "black",
            "labelLimit": 600,
            "symbolType": "M-2.2,0H7.8",
            "symbolSize": 139,
            "symbolStrokeWidth": 5,
            "rowPadding": 5.75,
            "labelOffset": 41
          }
        },
        "strokeDash": {
          "field": "s",
          "type": "nominal",
          "scale": {
            "domain": ["2 May 2009 (CBI)", "20 Jun 2012 (CBI)", "25 Feb 2014 (CityofCC)", "25 Jul 2014 (CBI)", "16 Sep 2015 (CBI)", "1 Apr 2016 (as-built, NMS)", "28 Nov 2016 (Pre-Harvey, CBI)", "6 Sep 2017 (Post-Harvey, CBI)"],
            "range": [[1, 0], [1, 0], [1, 0], [1, 0], [1, 0], [20, 28], [1, 0], [1, 0]]
          },
          "legend": {
            "title": "Legend",
            "orient": "none",
            "legendX": 12,
            "legendY": 343,
            "padding": 0,
            "titleFontSize": 26,
            "titleFontWeight": "normal",
            "titleColor": "black",
            "titlePadding": 5,
            "labelFontSize": 26.6,
            "labelColor": "black",
            "labelLimit": 600,
            "symbolType": "M-2.2,0H7.8",
            "symbolSize": 139,
            "symbolStrokeWidth": 5,
            "rowPadding": 5.75,
            "labelOffset": 41
          }
        },
        "order": {"field": "x", "type": "quantitative"}
      }
    },
    {
      "data": {"values": [{"y": 0}]},
      "mark": {"type": "rule", "color": "#333333", "strokeWidth": 1.5},
      "encoding": {"y": {"field": "y", "type": "quantitative"}}
    },
    {
      "data": {"values": [{"y": 0.9}]},
      "mark": {"type": "rule", "color": "black", "strokeWidth": 1, "strokeDash": [4, 4]},
      "encoding": {"y": {"field": "y", "type": "quantitative"}}
    },
    {
      "data": {"name": "minor"},
      "mark": {"type": "tick", "orient": "horizontal", "size": 6, "thickness": 2, "color": "black", "xOffset": -3, "clip": false, "opacity": 1},
      "encoding": {
        "x": {"field": "x", "type": "quantitative"},
        "y": {"field": "y", "type": "quantitative"}
      }
    },
    {
      "data": {"name": "bottom"},
      "mark": {"type": "tick", "orient": "horizontal", "size": 12, "thickness": 2, "color": "black", "xOffset": -6, "clip": false, "opacity": 1},
      "encoding": {
        "x": {"field": "x", "type": "quantitative"},
        "y": {"field": "y", "type": "quantitative"}
      }
    },
    {
      "data": {"values": [{"x": 1000, "y": 0.9, "t": "MHHW"}]},
      "mark": {"type": "text", "align": "right", "baseline": "alphabetic", "dx": -6, "dy": -6, "fontSize": 25, "color": "black"},
      "encoding": {
        "x": {"field": "x", "type": "quantitative"},
        "y": {"field": "y", "type": "quantitative"},
        "text": {"field": "t"}
      }
    }
  ]
}
